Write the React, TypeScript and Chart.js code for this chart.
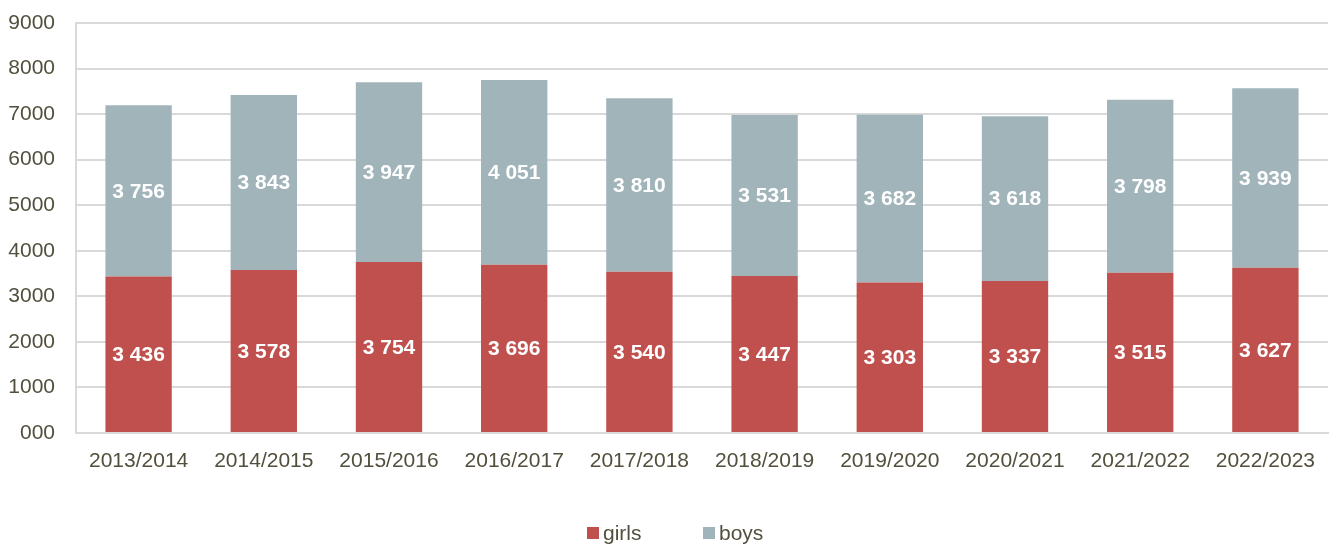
import React, { useEffect, useRef } from "react";
import { Chart, registerables } from "chart.js";

Chart.register(...registerables);

const categories = [
  "2013/2014", "2014/2015", "2015/2016", "2016/2017", "2017/2018",
  "2018/2019", "2019/2020", "2020/2021", "2021/2022", "2022/2023",
];
const girls = [3436, 3578, 3754, 3696, 3540, 3447, 3303, 3337, 3515, 3627];
const boys = [3756, 3843, 3947, 4051, 3810, 3531, 3682, 3618, 3798, 3939];
const yTickLabels = ["000", "1000", "2000", "3000", "4000", "5000", "6000", "7000", "8000", "9000"];
const seriesNames = ["girls", "boys"];

const GIRLS_COLOR = "#c0504d";
const BOYS_COLOR = "#a0b4ba";
const TEXT_COLOR = "#524f3c";
const GRID_COLOR = "#d9d9d9";
const FONT = "'Liberation Sans', Arial, sans-serif";

const fmt = (v: number) => String(v).replace(/\B(?=(\d{3})+(?!\d))/g, " ");

const labelPlugin = {
  id: "barLabels",
  afterDatasetsDraw(chart: any) {
    const ctx = chart.ctx;
    ctx.save();
    ctx.fillStyle = "#ffffff";
    ctx.font = `bold 21px ${FONT}`;
    ctx.textAlign = "center";
    ctx.textBaseline = "middle";
    chart.data.datasets.forEach((ds: any, di: number) => {
      const meta = chart.getDatasetMeta(di);
      meta.data.forEach((bar: any, i: number) => {
        const y = (bar.y + bar.base) / 2;
        ctx.fillText(fmt(ds.data[i]), bar.x, y + 1);
      });
    });
    ctx.restore();
  },
};

const legendPlugin = {
  id: "customLegend",
  afterDraw(chart: any) {
    const ctx = chart.ctx;
    ctx.save();
    ctx.font = `21px ${FONT}`;
    ctx.textBaseline = "middle";
    ctx.textAlign = "left";
    const colors = [GIRLS_COLOR, BOYS_COLOR];
    const cy = 533;
    let x = 587;
    seriesNames.forEach((name, i) => {
      ctx.fillStyle = colors[i];
      ctx.fillRect(x, cy - 6, 12, 12);
      ctx.fillStyle = TEXT_COLOR;
      ctx.fillText(name, x + 16, cy + 1);
      x += 116;
    });
    ctx.restore();
  },
};

export default function App() {
  const ref = useRef<HTMLCanvasElement>(null);
  useEffect(() => {
    if (!ref.current) return;
    const chart = new Chart(ref.current, {
      type: "bar",
      data: {
        labels: categories,
        datasets: [
          { label: seriesNames[0], data: girls, backgroundColor: GIRLS_COLOR, borderWidth: 0 },
          { label: seriesNames[1], data: boys, backgroundColor: BOYS_COLOR, borderWidth: 0 },
        ],
      },
      options: {
        responsive: false,
        animation: false,
        layout: { padding: { left: 8, right: 1, top: 23, bottom: 70 } },
        plugins: {
          legend: { display: false },
          tooltip: { enabled: false },
        },
        datasets: { bar: { categoryPercentage: 1, barPercentage: 0.53 } },
        scales: {
          x: {
            stacked: true,
            grid: { display: false, drawTicks: false },
            border: { display: true, color: GRID_COLOR, width: 2 },
            ticks: { color: TEXT_COLOR, font: { family: FONT, size: 21 }, padding: 16, maxRotation: 0, autoSkip: false },
            afterFit: (scale: any) => { scale.height = 41; scale.paddingLeft = 0; scale.paddingRight = 0; },
          },
          y: {
            stacked: true,
            min: 0,
            max: 9000,
            grid: { color: GRID_COLOR, lineWidth: 2, drawTicks: false },
            border: { display: true, color: GRID_COLOR, width: 2 },
            ticks: {
              stepSize: 1000,
              color: TEXT_COLOR,
              font: { family: FONT, size: 21 },
              padding: 21,
              callback: (v: any) => yTickLabels[Math.round(Number(v) / 1000)] ?? String(v),
            },
            afterFit: (scale: any) => { scale.width = 68; scale.paddingTop = 0; scale.paddingBottom = 0; },
          },
        },
      },
      plugins: [labelPlugin, legendPlugin],
    });
    return () => chart.destroy();
  }, []);
  return (
    <div style={{ position: "fixed", left: 0, top: 0, width: 1329, height: 544, background: "#fff" }}>
      <canvas ref={ref} width={1329} height={544} />
    </div>
  );
}
